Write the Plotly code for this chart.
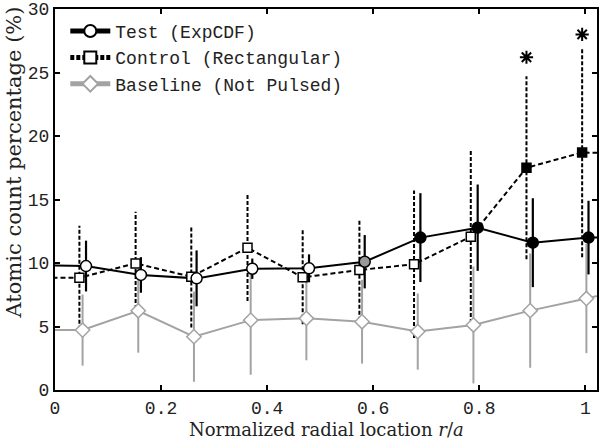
import plotly.graph_objects as go

# ---- data ----
test_x = [0.0585, 0.162, 0.267, 0.372, 0.479, 0.584, 0.689, 0.797, 0.901, 1.006]
test_y = [9.76, 9.06, 8.79, 9.55, 9.58, 10.1, 12.0, 12.78, 11.6, 12.0]
test_err = [2.0, 1.4, 2.2, 0.8, 1.1, 2.1, 3.5, 3.4, 3.5, 2.9]
test_fill = ["white"] * 5 + ["#999999"] + ["black"] * 4

control_x = [0.046, 0.152, 0.257, 0.363, 0.467, 0.574, 0.677, 0.784, 0.889, 0.994]
control_y = [8.84, 9.97, 8.92, 11.2, 8.87, 9.45, 9.9, 12.07, 17.5, 18.7]
control_err = [4.1, 4.07, 4.0, 4.2, 3.7, 4.0, 5.8, 6.8, 7.2, 8.25]
control_fill = ["white"] * 8 + ["black"] * 2

base_x = [0.052, 0.157, 0.262, 0.369, 0.474, 0.579, 0.684, 0.789, 0.896, 1.002]
base_y = [4.72, 6.24, 4.2, 5.5, 5.64, 5.38, 4.6, 5.12, 6.25, 7.2]
base_err = [2.8, 3.3, 3.55, 4.3, 3.3, 3.3, 3.0, 4.6, 4.5, 4.3]

# neighbouring samples just outside the visible range (lines run off the frame)
edge_x = [-0.05, 1.10]
test_edge_y = [9.85, 12.0]
control_edge_y = [8.84, 18.6]
base_edge_y = [4.72, 8.2]

sig_x = [control_x[8], control_x[9]]
sig_y = [26.2, 28.0]

x_ticks = [0, 0.2, 0.4, 0.6, 0.8, 1.0]
x_tick_text = ["0", "0.2", "0.4", "0.6", "0.8", "1"]
y_ticks = [0, 5, 10, 15, 20, 25, 30]

GREY = "#a3a3a3"
MONO = "Liberation Mono"
SERIF = "DejaVu Serif"
TXT = "#222222"


def bars(xs, ys, es):
    bx, by = [], []
    for x, y, e in zip(xs, ys, es):
        bx += [x, x, None]
        by += [y - e, y + e, None]
    return bx, by


fig = go.Figure()

# Baseline
bx, by = bars(base_x, base_y, base_err)
fig.add_trace(go.Scatter(x=bx, y=by, mode="lines", line=dict(color=GREY, width=2),
                         showlegend=False, hoverinfo="skip"))
fig.add_trace(go.Scatter(x=[edge_x[0]] + base_x + [edge_x[1]],
                         y=[base_edge_y[0]] + base_y + [base_edge_y[1]],
                         mode="lines", line=dict(color=GREY, width=2),
                         showlegend=False, hoverinfo="skip"))

# Control
bx, by = bars(control_x, control_y, control_err)
fig.add_trace(go.Scatter(x=bx, y=by, mode="lines",
                         line=dict(color="black", width=2, dash="4px,2px"),
                         showlegend=False, hoverinfo="skip"))
fig.add_trace(go.Scatter(x=[edge_x[0]] + control_x + [edge_x[1]],
                         y=[control_edge_y[0]] + control_y + [control_edge_y[1]],
                         mode="lines", line=dict(color="black", width=2, dash="5px,3px"),
                         showlegend=False, hoverinfo="skip"))

# Test
bx, by = bars(test_x, test_y, test_err)
fig.add_trace(go.Scatter(x=bx, y=by, mode="lines", line=dict(color="black", width=2.2),
                         showlegend=False, hoverinfo="skip"))
fig.add_trace(go.Scatter(x=[edge_x[0]] + test_x + [edge_x[1]],
                         y=[test_edge_y[0]] + test_y + [test_edge_y[1]],
                         mode="lines", line=dict(color="black", width=2),
                         showlegend=False, hoverinfo="skip"))

# markers
fig.add_trace(go.Scatter(x=base_x, y=base_y, mode="markers",
                         marker=dict(symbol="diamond", size=11, color="white",
                                     line=dict(color=GREY, width=1.5)),
                         showlegend=False))
fig.add_trace(go.Scatter(x=control_x, y=control_y, mode="markers",
                         marker=dict(symbol="square", size=9, color=control_fill,
                                     line=dict(color="black", width=1.5)),
                         showlegend=False))
fig.add_trace(go.Scatter(x=test_x, y=test_y, mode="markers",
                         marker=dict(symbol="circle", size=11, color=test_fill,
                                     line=dict(color="black", width=1.5)),
                         showlegend=False))

# significance asterisks
fig.add_trace(go.Scatter(x=sig_x, y=sig_y, mode="markers",
                         marker=dict(symbol="asterisk-open", size=11, color="black",
                                     line=dict(color="black", width=2)),
                         showlegend=False, hoverinfo="skip"))

# legend entries
fig.add_trace(go.Scatter(x=[None], y=[None], mode="lines+markers", name="Test (ExpCDF)",
                         line=dict(color="black", width=1.5),
                         marker=dict(symbol="circle", size=10, color="white",
                                     line=dict(color="black", width=1.5))))
fig.add_trace(go.Scatter(x=[None], y=[None], mode="lines+markers", name="Control (Rectangular)",
                         line=dict(color="black", width=1.5, dash="4px,2px"),
                         marker=dict(symbol="square", size=9, color="white",
                                     line=dict(color="black", width=1.5))))
fig.add_trace(go.Scatter(x=[None], y=[None], mode="lines+markers", name="Baseline (Not Pulsed)",
                         line=dict(color=GREY, width=1.5),
                         marker=dict(symbol="diamond", size=10, color="white",
                                     line=dict(color=GREY, width=1.5))))

axis_common = dict(showgrid=False, zeroline=False, showline=True, mirror="ticks",
                   linecolor="black", linewidth=2, ticks="inside", ticklen=5,
                   tickwidth=1.5, tickcolor="black", automargin=False,
                   tickfont=dict(family=MONO, size=18, color=TXT))

fig.update_layout(
    width=600, height=440,
    margin=dict(l=55, r=3, t=9, b=50, autoexpand=False),
    paper_bgcolor="white", plot_bgcolor="white",
    xaxis=dict(range=[0, 1.022], tickvals=x_ticks, ticktext=x_tick_text,
               ticklabelstandoff=0, **axis_common),
    yaxis=dict(range=[0, 30], tickvals=y_ticks, **axis_common),
    legend=dict(x=0.019, y=0.99, xanchor="left", yanchor="top", itemwidth=40,
                bgcolor="rgba(0,0,0,0)", font=dict(family=MONO, size=18, color=TXT),
                tracegroupgap=0, itemsizing="constant"),
    showlegend=True,
    annotations=[
        dict(text="Normalized radial location <i>r</i>/<i>a</i>", xref="paper", yref="paper",
             x=0.5, y=-0.103, xanchor="center", yanchor="middle", showarrow=False,
             font=dict(family=SERIF, size=18, color=TXT)),
        dict(text="Atomic count percentage (%)", xref="paper", yref="paper",
             x=-0.075, y=0.598, xanchor="center", yanchor="middle", showarrow=False,
             textangle=-90, font=dict(family=SERIF, size=21, color=TXT)),
    ],
)

fig.write_html("out.html", config={"displayModeBar": False},
               post_script="document.body.style.margin='0px';document.body.style.overflow='hidden';")
